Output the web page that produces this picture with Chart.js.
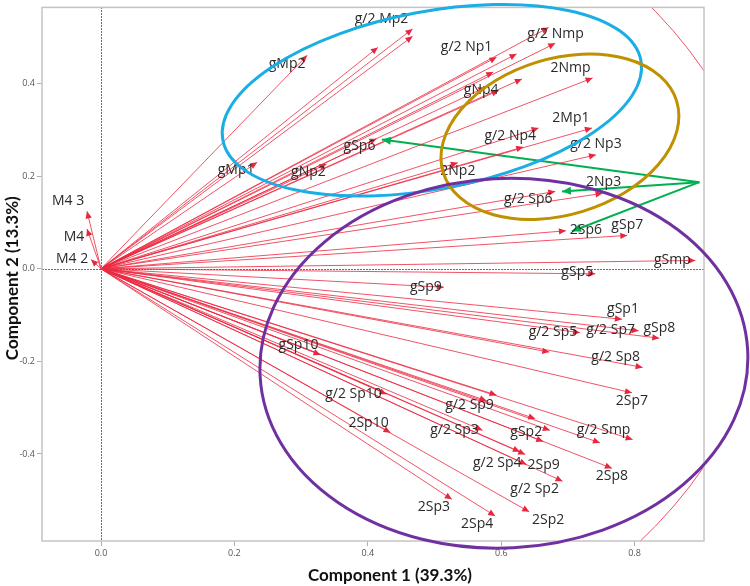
<!DOCTYPE html>
<html><head><meta charset="utf-8">
<script src="https://cdn.jsdelivr.net/npm/chart.js@4.4.1/dist/chart.umd.min.js"></script>
<style>html,body{margin:0;padding:0;background:#fff}#wrap{width:750px;height:586px;position:relative}</style>
</head><body><div id="wrap"><canvas id="c" width="750" height="586"></canvas></div>
<script>
// ---- data (loadings) ----
const names = ["M4 3","M4","M4 2","gMp2","g/2 Mp2","","","gMp1","gNp2","gSp6","2Np2","g/2 Nmp","","g/2 Np1","","","","gNp4","","2Nmp","2Mp1","","g/2 Np4","g/2 Np3","2Np3","g/2 Sp6","2Sp6","gSp7","gSmp","gSp5","gSp9","gSp10","g/2 Sp10","g/2 Sp9","","2Sp10","g/2 Sp3","2Sp3","2Sp4","gSp1","g/2 Sp5","g/2 Sp7","gSp8","","g/2 Sp8","2Sp7","","","gSp2","","g/2 Smp","g/2 Sp4","","2Sp9","2Sp8","g/2 Sp2","2Sp2"];
const comp1 = [-0.021,-0.021,-0.015,0.309,0.467,0.467,0.415,0.234,0.338,0.413,0.535,0.671,0.681,0.593,0.623,0.588,0.631,0.576,0.596,0.737,0.736,0.656,0.633,0.742,0.752,0.681,0.697,0.789,0.891,0.741,0.514,0.329,0.428,0.593,0.578,0.434,0.572,0.526,0.591,0.781,0.718,0.806,0.837,0.672,0.812,0.796,0.651,0.673,0.663,0.748,0.797,0.636,0.628,0.638,0.766,0.692,0.642];
const comp2 = [0.124,0.086,0.020,0.461,0.518,0.502,0.478,0.230,0.226,0.281,0.229,0.521,0.487,0.457,0.464,0.425,0.410,0.392,0.385,0.412,0.304,0.304,0.263,0.246,0.163,0.167,0.082,0.072,0.018,-0.011,-0.040,-0.186,-0.271,-0.273,-0.285,-0.354,-0.349,-0.498,-0.534,-0.109,-0.138,-0.134,-0.150,-0.180,-0.213,-0.268,-0.324,-0.349,-0.373,-0.376,-0.369,-0.401,-0.395,-0.423,-0.431,-0.459,-0.525];
const xTickValues = [0.0,0.2,0.4,0.6,0.8];
const yTickValues = [-0.4,-0.2,0.0,0.2,0.4];
const greenSource = [0.897,0.187];
const greenTargetX = [0.421,0.691,0.706];
const greenTargetY = [0.279,0.167,0.081];

// ---- layout / style (label offsets in px, annotation ellipses) ----
const labelDx = [-19,-13,-19,-20,-31,0,0,-21,-18,-17,0,7,0,-30,0,0,0,-4,0,-22,-21,0,-13,0,1,-27,20,0,-23,-18,-18,-22,-33,-27,0,-22,-28,-18,-18,1,-27,-28,0,0,-27,0,0,0,-17,0,-29,-28,0,17,0,-28,19];
const labelDy = [-10,8,0,9,-10,0,0,8,8,7,8,6,0,-10,0,0,0,3,0,-10,-10,0,-11,-11,-11,8,-1,-10,0,-2,0,-10,0,10,0,-10,0,8,8,-10,-1,-1,-10,0,-10,8,0,0,-9,0,-10,9,0,0,8,8,8];
const ellipses = [
  {cx:0.496, cy:0.364, a:0.319, b:0.133, rot:-10.8, color:'#1aaee5'},
  {cx:0.688, cy:0.285, a:0.183, b:0.117, rot:-17, color:'#bf9000'},
  {cx:0.604, cy:-0.204, a:0.366, b:0.277, rot:-3, color:'#7030a0'}
];
const RED = 'rgba(236,40,64,0.8)';
const GREEN = '#00b050';

const datasets = [];
names.forEach((n,i)=>{
  datasets.push({data:[{x:0,y:0},{x:comp1[i],y:comp2[i]}],showLine:true,borderColor:RED,borderWidth:1,pointRadius:0,pointHoverRadius:0,kind:'red',label:n});
});
greenTargetX.forEach((gx,i)=>{
  datasets.push({data:[{x:greenSource[0],y:greenSource[1]},{x:gx,y:greenTargetY[i]}],showLine:true,borderColor:GREEN,borderWidth:2,pointRadius:0,pointHoverRadius:0,kind:'green'});
});

function arrowHead(ctx,x0,y0,x1,y1,len,half,color){
  const ang=Math.atan2(y1-y0,x1-x0);
  ctx.save();ctx.translate(x1,y1);ctx.rotate(ang);
  ctx.beginPath();ctx.moveTo(0,0);ctx.lineTo(-len,-half);ctx.lineTo(-len,half);ctx.closePath();
  ctx.fillStyle=color;ctx.fill();ctx.restore();
}

const decor = {
  id:'decor',
  beforeDatasetsDraw(chart){
    const {ctx,chartArea:a,scales:{x,y}}=chart;
    ctx.save();
    ctx.beginPath();ctx.rect(a.left,a.top,a.right-a.left,a.bottom-a.top);ctx.clip();
    const ox=x.getPixelForValue(0), oy=y.getPixelForValue(0);
    const rx=x.getPixelForValue(1)-ox, ry=oy-y.getPixelForValue(1);
    ctx.beginPath();ctx.ellipse(ox,oy,rx,ry,0,0,Math.PI*2);
    ctx.strokeStyle='rgba(236,40,64,0.8)';ctx.lineWidth=1;ctx.stroke();
    // dotted zero lines as small red dashes
    ctx.fillStyle='#ff2a45';
    const hy=Math.round(oy), vx=Math.round(ox);
    for(let p=Math.round(a.left);p<a.right;p+=3) ctx.fillRect(p,hy,2,1);
    for(let p=Math.round(a.top);p<a.bottom;p+=3) ctx.fillRect(vx,p,1,2);
    ctx.restore();
  },
  afterDatasetsDraw(chart){
    const {ctx,chartArea:a,scales:{x,y}}=chart;
    const ox=x.getPixelForValue(0), oy=y.getPixelForValue(0);
    ctx.save();
    names.forEach((n,i)=>{
      const px=x.getPixelForValue(comp1[i]), py=y.getPixelForValue(comp2[i]);
      arrowHead(ctx,ox,oy,px,py,7,3.2,'rgb(232,38,62)');
    });
    const gx0=x.getPixelForValue(greenSource[0]), gy0=y.getPixelForValue(greenSource[1]);
    greenTargetX.forEach((gx,i)=>{
      arrowHead(ctx,gx0,gy0,x.getPixelForValue(gx),y.getPixelForValue(greenTargetY[i]),9,4,GREEN);
    });
    ctx.font='14px "Open Sans", "Noto Sans", sans-serif';
    ctx.fillStyle='#2a2a2a';ctx.textAlign='center';ctx.textBaseline='middle';
    names.forEach((n,i)=>{
      if(!n) return;
      const px=x.getPixelForValue(comp1[i]), py=y.getPixelForValue(comp2[i]);
      ctx.fillText(n,px+labelDx[i],py+labelDy[i]);
    });
    ctx.strokeStyle='#c4c4c4';ctx.lineWidth=1.5;
    ctx.strokeRect(a.left,a.top,a.right-a.left,a.bottom-a.top);
    const kx=x.getPixelForValue(1)-x.getPixelForValue(0);
    ellipses.forEach(e=>{
      ctx.beginPath();
      ctx.ellipse(x.getPixelForValue(e.cx),y.getPixelForValue(e.cy),e.a*kx,e.b*kx,e.rot*Math.PI/180,0,Math.PI*2);
      ctx.strokeStyle=e.color;ctx.lineWidth=3;ctx.stroke();
    });
    ctx.fillStyle='#111';ctx.font='bold 17px Lato, "Open Sans", sans-serif';
    ctx.textAlign='center';ctx.textBaseline='middle';
    ctx.fillText('Component 1 (39.3%)',390,576);
    ctx.save();ctx.translate(13,(a.top+a.bottom)/2+4);ctx.rotate(-Math.PI/2);
    ctx.fillText('Component 2 (13.3%)',0,0);ctx.restore();
    ctx.restore();
  }
};

new Chart(document.getElementById('c'),{
  type:'scatter',
  data:{datasets},
  options:{
    responsive:false,animation:false,devicePixelRatio:1,
    layout:{padding:{top:5,right:46,left:0,bottom:0}},
    plugins:{legend:{display:false},tooltip:{enabled:false},title:{display:false}},
    scales:{
      x:{type:'linear',min:-0.0885,max:0.904,
        afterBuildTicks:s=>{s.ticks=xTickValues.map(v=>({value:v}));},
        afterFit:s=>{s.height=45;},
        ticks:{callback:v=>Number(v).toFixed(1),font:{size:9,family:'"Open Sans", sans-serif'},color:'#555',padding:2,maxRotation:0},
        grid:{drawOnChartArea:false,drawTicks:true,tickLength:5,color:'#b0b0b0'},
        border:{display:false}},
      y:{type:'linear',min:-0.588,max:0.5645,
        afterBuildTicks:s=>{s.ticks=yTickValues.map(v=>({value:v}));},
        afterFit:s=>{s.width=42;},
        ticks:{callback:v=>Number(v).toFixed(1),font:{size:9,family:'"Open Sans", sans-serif'},color:'#555',padding:2},
        grid:{drawOnChartArea:false,drawTicks:true,tickLength:5,color:'#b0b0b0'},
        border:{display:false}}
    }
  },
  plugins:[decor]
});
</script></body></html>
